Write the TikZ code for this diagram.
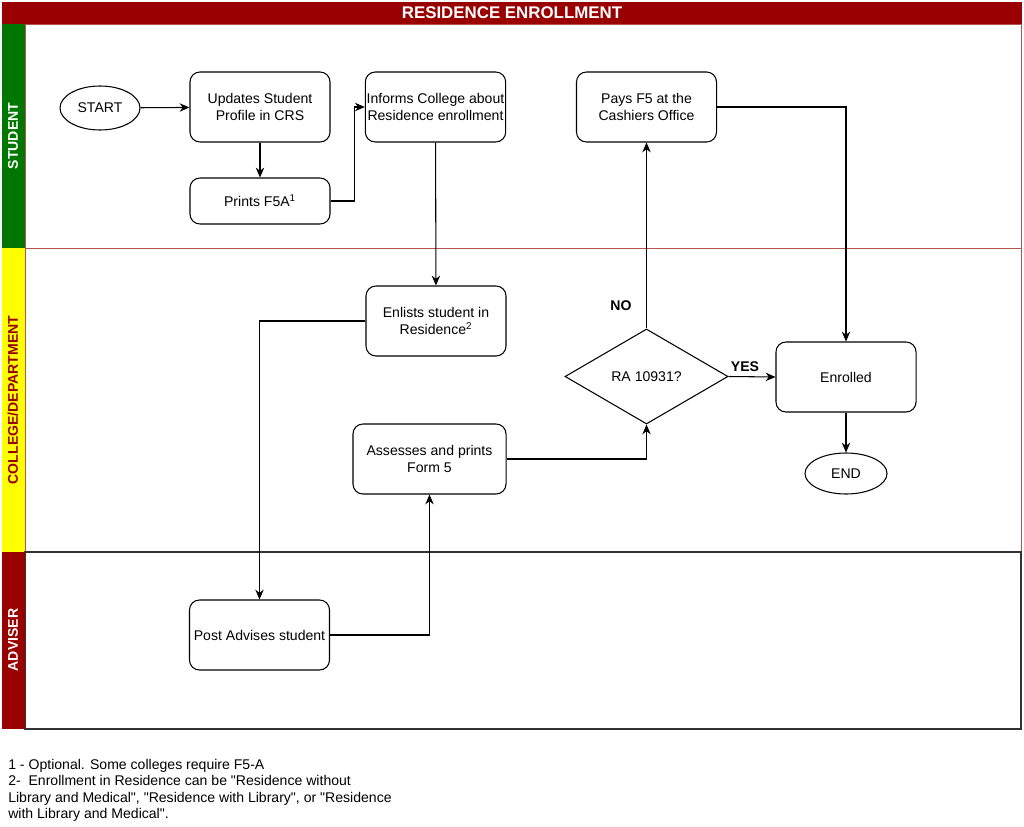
\documentclass[tikz,border=0pt]{standalone}
\usepackage{fontspec}
\setmainfont{Liberation Sans}
\usetikzlibrary{arrows.meta,positioning,shapes.geometric}
\definecolor{laneRed}{HTML}{990000}
\definecolor{laneGreen}{HTML}{007700}
\definecolor{laneYellow}{HTML}{FFFF00}
\definecolor{laneLine}{HTML}{B85450}
\definecolor{laneGray}{HTML}{333333}
\newcommand{\lanetext}{\bfseries\fontsize{10}{11}\selectfont}
\newcommand{\qt}{\textquotedbl}

\begin{document}
\begin{tikzpicture}[>={Stealth[length=7pt,width=6pt]}, x=0.025cm, y=-0.025cm,
  font=\fontsize{10}{12}\selectfont,
  procbox/.style={draw, rounded corners=0.25cm, minimum width=3.5cm,
    minimum height=1.75cm, align=center, inner sep=1pt, line width=0.75pt},
  terminal/.style={draw, ellipse, inner sep=0pt, line width=0.75pt},
  decision/.style={draw, diamond, inner sep=0pt, line width=0.75pt,
    minimum width=4.075cm, minimum height=2.375cm},
  flow/.style={->, line width=0.75pt}]
  \useasboundingbox (0,0) rectangle (1024,827);

  % lanes
  \draw[laneRed, fill=laneRed] (2,2) rectangle (1021,24);
  \node[text=white, font=\bfseries\fontsize{12}{13}\selectfont] (title) at (512,13) {RESIDENCE ENROLLMENT};
  \draw[laneLine, line width=0.6pt] (25,24) rectangle (1021,248);
  \fill[laneGreen] (2,24) rectangle (25,248);
  \draw[laneLine, line width=0.6pt] (25,248) rectangle (1021,552);
  \fill[laneYellow] (2,248) rectangle (25,552);
  \draw[laneGray, line width=0.75pt] (25,552) rectangle (1021,729);
  \fill[laneRed] (2,552) rectangle (25,729);
  \node[rotate=90, text=white, font=\lanetext] (lstu) at (13,136) {STUDENT};
  \node[rotate=90, text=laneRed, font=\lanetext] (lcol) at (13,400) {COLLEGE/DEPARTMENT};
  \node[rotate=90, text=white, font=\lanetext] (ladv) at (13,640) {ADVISER};

  % steps
  \node[terminal, minimum width=2cm, minimum height=1.1cm] (start) at (100,108) {START};
  \node[procbox] (upd) at (260,107) {Updates Student\\Profile in CRS};
  \node[procbox, minimum height=1.15cm] (prt) at (260,201) {Prints F5A\textsuperscript{1}};
  \node[procbox] (inf) at (435.5,107) {Informs College about\\Residence enrollment};
  \node[procbox] (pay) at (646.5,107) {Pays F5 at the\\Cashiers Office};
  \node[procbox] (enl) at (436,321) {Enlists student in\\Residence\textsuperscript{2}};
  \node[procbox, minimum width=3.825cm] (ass) at (429.5,459) {Assesses and prints\\Form 5};
  \node[decision] (ra) at (646.5,376.5) {RA 10931?};
  \node[procbox] (enr) at (846,377) {Enrolled};
  \node[terminal, minimum width=2.05cm, minimum height=1.025cm] (end) at (846,473.5) {END};
  \node[procbox] (adv) at (259.5,635) {Post Advises student};

  % connectors
  \draw[flow] (start) -- (upd);
  \draw[flow] (upd) -- (prt);
  \draw[flow] (prt.east) -- ++(24,0) |- (inf.west);
  \draw[flow] (inf) -- (enl);
  \draw[flow] (enl.west) -| (adv.north);
  \draw[flow] (adv.east) -| (ass.south);
  \draw[flow] (ass.east) -| (ra.south);
  \draw[flow] (ra.north) -- node[pos=0.12, left=7pt, font=\bfseries]{NO} (pay.south);
  \draw[flow] (ra.east) -- node[above, pos=0.35, font=\bfseries]{YES} (enr.west);
  \draw[flow] (pay.east) -| (enr.north);
  \draw[flow] (enr) -- (end);

  % notes
  \node[anchor=north west, align=left, inner sep=0pt,
    font=\fontsize{10}{11.7}\selectfont] (notes) at (8,759)
    {1 - Optional. Some colleges require F5-A\\
     2-\ \ Enrollment in Residence can be \qt Residence without\\
     Library and Medical\qt, \qt Residence with Library\qt, or \qt Residence\\
     with Library and Medical\qt.};
\end{tikzpicture}
\end{document}
